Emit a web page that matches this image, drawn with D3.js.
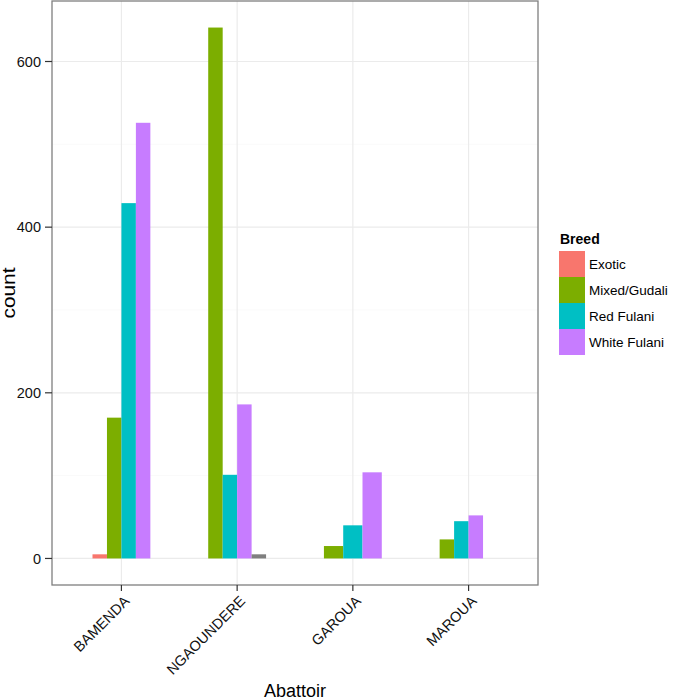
<!DOCTYPE html>
<html>
<head>
<meta charset="utf-8">
<script src="https://cdn.jsdelivr.net/npm/d3@7"></script>
<style>
  body { margin: 0; background: #fff; }
  svg { font-family: "Liberation Sans", Arial, sans-serif; }
</style>
</head>
<body>
<svg id="chart" width="675" height="700"></svg>
<script>
// data
const abattoirs = ['BAMENDA', 'NGAOUNDERE', 'GAROUA', 'MAROUA'];
const breeds = ['Exotic', 'Mixed/Gudali', 'Red Fulani', 'White Fulani', 'NA'];
// null = breed not present at that abattoir
const exotic = [5, null, null, null];
const mixedGudali = [170, 641, 15, 23];
const redFulani = [429, 101, 40, 45];
const whiteFulani = [526, 186, 104, 52];
const naBreed = [null, 5, null, 0];
const yTicks = [0, 200, 400, 600];
const yMinor = [100, 300, 500];

const series = [exotic, mixedGudali, redFulani, whiteFulani, naBreed];
const color = d3.scaleOrdinal()
  .domain(breeds)
  .range(['#F8766D', '#7CAE00', '#00BFC4', '#C77CFF', '#7F7F7F']);

const panel = { left: 52, right: 538, top: 1, bottom: 585 };
const svg = d3.select('#chart');

const maxVal = d3.max(series.flat().filter(v => v != null));
const pad = maxVal * 0.05;
const y = d3.scaleLinear()
  .domain([-pad, maxVal + pad])
  .range([panel.bottom, panel.top]);

const x = d3.scalePoint()
  .domain(abattoirs)
  .range([panel.left, panel.right])
  .padding(0.6);

const groupW = x.step() * 0.5;

// grid
const grid = svg.append('g');
grid.selectAll('.minor').data(yMinor).enter().append('line')
  .attr('x1', panel.left).attr('x2', panel.right)
  .attr('y1', d => y(d)).attr('y2', d => y(d))
  .attr('stroke', '#FAFAFA').attr('stroke-width', 1);
grid.selectAll('.major').data(yTicks).enter().append('line')
  .attr('x1', panel.left).attr('x2', panel.right)
  .attr('y1', d => y(d)).attr('y2', d => y(d))
  .attr('stroke', '#EBEBEB').attr('stroke-width', 1.2);
grid.selectAll('.vmajor').data(abattoirs).enter().append('line')
  .attr('x1', d => x(d)).attr('x2', d => x(d))
  .attr('y1', panel.top).attr('y2', panel.bottom)
  .attr('stroke', '#EBEBEB').attr('stroke-width', 1.2);

// bars, dodged within each abattoir
const bars = [];
abattoirs.forEach((a, i) => {
  const present = breeds.filter((b, j) => series[j][i] != null);
  const inner = d3.scaleBand().domain(present).range([-groupW / 2, groupW / 2]);
  present.forEach(b => {
    const v = series[breeds.indexOf(b)][i];
    bars.push({ a, b, v, x0: x(a) + inner(b), w: inner.bandwidth() });
  });
});

svg.append('g').selectAll('rect').data(bars).enter().append('rect')
  .attr('x', d => d.x0)
  .attr('width', d => d.w)
  .attr('y', d => y(d.v))
  .attr('height', d => y(0) - y(d.v))
  .attr('fill', d => color(d.b));

// panel border
svg.append('rect')
  .attr('x', panel.left).attr('y', panel.top)
  .attr('width', panel.right - panel.left)
  .attr('height', panel.bottom - panel.top)
  .attr('fill', 'none').attr('stroke', '#7F7F7F').attr('stroke-width', 1.3);

// y axis
const yAxis = svg.append('g');
yAxis.selectAll('line').data(yTicks).enter().append('line')
  .attr('x1', panel.left - 7).attr('x2', panel.left)
  .attr('y1', d => y(d)).attr('y2', d => y(d))
  .attr('stroke', '#333').attr('stroke-width', 1.2);
yAxis.selectAll('text').data(yTicks).enter().append('text')
  .attr('x', panel.left - 11)
  .attr('y', d => y(d))
  .attr('dy', '0.36em')
  .attr('text-anchor', 'end')
  .style('font-size', '14.5px')
  .style('fill', '#111')
  .text(d => d);

// x axis
const xAxis = svg.append('g');
xAxis.selectAll('line').data(abattoirs).enter().append('line')
  .attr('x1', d => x(d)).attr('x2', d => x(d))
  .attr('y1', panel.bottom).attr('y2', panel.bottom + 6)
  .attr('stroke', '#333').attr('stroke-width', 1.2);
xAxis.selectAll('text').data(abattoirs).enter().append('text')
  .attr('transform', d => `translate(${x(d) + 9}, ${panel.bottom + 17}) rotate(-45)`)
  .attr('text-anchor', 'end')
  .style('font-size', '14.5px')
  .style('fill', '#111')
  .text(d => d);

// axis titles
svg.append('text')
  .attr('x', (panel.left + panel.right) / 2)
  .attr('y', 697)
  .attr('text-anchor', 'middle')
  .style('font-size', '18px')
  .text('Abattoir');

svg.append('text')
  .attr('transform', `translate(14.5, ${(panel.top + panel.bottom) / 2}) rotate(-90)`)
  .attr('text-anchor', 'middle')
  .attr('textLength', 51)
  .attr('lengthAdjust', 'spacingAndGlyphs')
  .style('font-size', '18px')
  .text('count');

// legend (NA not listed)
const legendBreeds = breeds.slice(0, 4);
const legend = svg.append('g').attr('transform', 'translate(559, 251)');
legend.append('text')
  .attr('x', 1).attr('y', -7)
  .style('font-size', '14px')
  .style('font-weight', 'bold')
  .text('Breed');
const items = legend.selectAll('.item').data(legendBreeds).enter().append('g')
  .attr('transform', (d, i) => `translate(0, ${i * 26})`);
items.append('rect')
  .attr('width', 26).attr('height', 26)
  .attr('fill', d => color(d));
items.append('text')
  .attr('x', 30).attr('y', 13)
  .attr('dy', '0.36em')
  .style('font-size', '13.5px')
  .text(d => d);
</script>
</body>
</html>
